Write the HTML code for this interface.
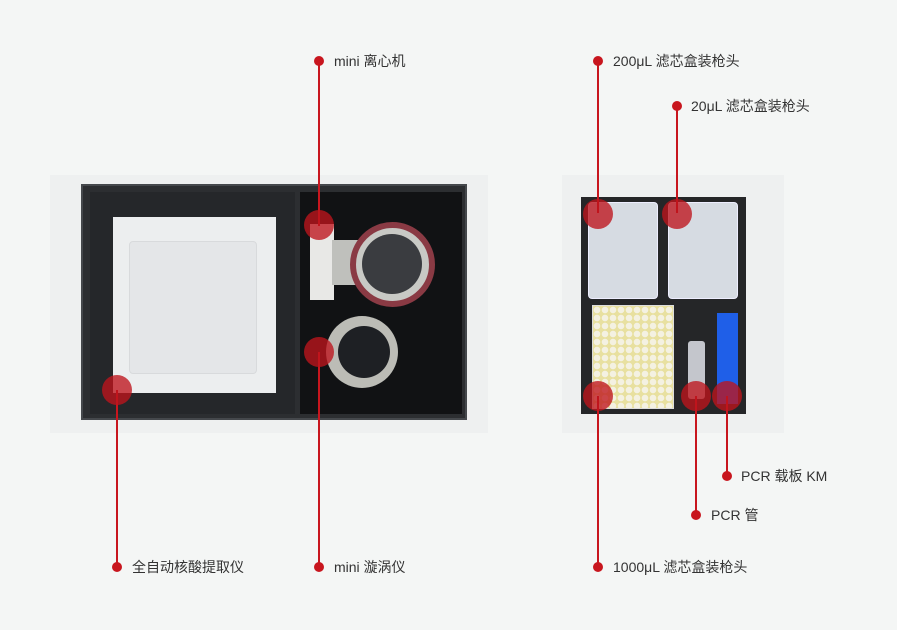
<!DOCTYPE html>
<html><head><meta charset="utf-8"><style>
body{margin:0;width:897px;height:630px;background:#f4f6f5;position:relative;overflow:hidden;font-family:"Liberation Sans","Noto Sans CJK SC",sans-serif}
div{position:absolute;box-sizing:border-box}
.l{width:2px;background:#c8161e}
.d{width:10px;height:10px;border-radius:50%;background:#c8161e}
.b{width:30px;height:30px;border-radius:50%;background:rgba(190,20,28,.78)}
.t{font-size:14px;color:#333;white-space:nowrap;line-height:16px}
</style></head><body>
<!-- left box -->
<div style="left:50px;top:175px;width:438px;height:258px;background:#eef0f0"></div>
<div style="left:81px;top:184px;width:386px;height:236px;background:#2c2e31;border:2px solid #45484c"></div>
<div style="left:90px;top:192px;width:205px;height:222px;background:#25272a"></div>
<div style="left:300px;top:192px;width:162px;height:222px;background:#111214"></div>
<div style="left:113px;top:217px;width:163px;height:176px;background:#eceeef"></div>
<div style="left:129px;top:241px;width:128px;height:133px;background:#e4e6e8;border-radius:4px;border:1px solid #d8dadc"></div>
<div style="left:310px;top:224px;width:24px;height:76px;background:#e8e8e6"></div>
<div style="left:332px;top:240px;width:30px;height:45px;background:#bfc0bc"></div>
<div style="left:350px;top:222px;width:85px;height:85px;border-radius:50%;background:#c8c9c5;border:6px solid #8a3a44"></div>
<div style="left:362px;top:234px;width:60px;height:60px;border-radius:50%;background:#3a3c40"></div>
<div style="left:326px;top:316px;width:72px;height:72px;border-radius:50%;background:#bcbcb6"></div>
<div style="left:338px;top:326px;width:52px;height:52px;border-radius:50%;background:#1e2024"></div>
<!-- right tray -->
<div style="left:562px;top:175px;width:222px;height:258px;background:#eef0f0"></div>
<div style="left:581px;top:197px;width:165px;height:217px;background:#252628"></div>
<div style="left:588px;top:202px;width:70px;height:97px;background:#d6dbe2;border-radius:4px;border:1px solid #eef"></div>
<div style="left:668px;top:202px;width:70px;height:97px;background:#d6dbe2;border-radius:4px;border:1px solid #eef"></div>
<div style="left:592px;top:305px;width:82px;height:104px;background:#e8e0a0;border:1px solid #ddd;background-image:radial-gradient(circle,#f4f1e2 3px,transparent 3.5px);background-size:8px 8px"></div>
<div style="left:688px;top:341px;width:17px;height:58px;background:#c4c6cc;border-radius:3px"></div>
<div style="left:717px;top:313px;width:21px;height:91px;background:#1f5fe8"></div>
<!-- leaders -->
<div class="l" style="left:318px;top:61px;height:165px"></div><div class="d" style="left:314px;top:56px"></div><div class="b" style="left:304px;top:210px"></div><div class="t" style="left:334px;top:53px">mini 离心机</div>
<div class="l" style="left:318px;top:352px;height:215px"></div><div class="d" style="left:314px;top:562px"></div><div class="b" style="left:304px;top:337px"></div><div class="t" style="left:334px;top:559px">mini 漩涡仪</div>
<div class="l" style="left:116px;top:390px;height:177px"></div><div class="d" style="left:112px;top:562px"></div><div class="b" style="left:102px;top:375px"></div><div class="t" style="left:132px;top:559px">全自动核酸提取仪</div>
<div class="l" style="left:597px;top:61px;height:152px"></div><div class="d" style="left:593px;top:56px"></div><div class="b" style="left:583px;top:199px"></div><div class="t" style="left:613px;top:53px">200μL 滤芯盒装枪头</div>
<div class="l" style="left:676px;top:106px;height:107px"></div><div class="d" style="left:672px;top:101px"></div><div class="b" style="left:662px;top:199px"></div><div class="t" style="left:691px;top:98px">20μL 滤芯盒装枪头</div>
<div class="l" style="left:597px;top:396px;height:171px"></div><div class="d" style="left:593px;top:562px"></div><div class="b" style="left:583px;top:381px"></div><div class="t" style="left:613px;top:559px">1000μL 滤芯盒装枪头</div>
<div class="l" style="left:695px;top:396px;height:119px"></div><div class="d" style="left:691px;top:510px"></div><div class="b" style="left:681px;top:381px"></div><div class="t" style="left:711px;top:507px">PCR 管</div>
<div class="l" style="left:726px;top:396px;height:80px"></div><div class="d" style="left:722px;top:471px"></div><div class="b" style="left:712px;top:381px"></div><div class="t" style="left:741px;top:468px">PCR 载板 KM</div>
</body></html>
